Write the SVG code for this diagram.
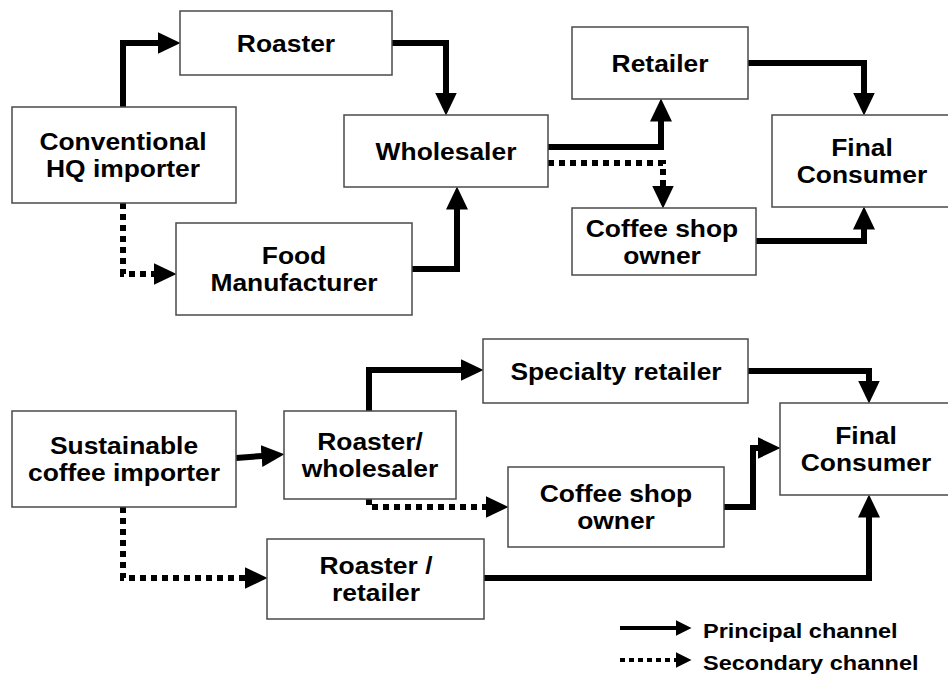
<svg xmlns="http://www.w3.org/2000/svg" width="948" height="674" viewBox="0 0 948 674">
<style>
.box{fill:#fff;stroke:#4a4a4a;stroke-width:1.5}
.lbl{font-family:"Liberation Sans",Arial,Helvetica,sans-serif;font-weight:bold;font-size:24px;fill:#000;text-anchor:middle}
.leg{font-family:"Liberation Sans",Arial,Helvetica,sans-serif;font-weight:bold;font-size:21px;fill:#000;text-anchor:start}
.main{fill:none;stroke:#000;stroke-width:6;marker-end:url(#head)}
.sec{fill:none;stroke:#000;stroke-width:6;stroke-dasharray:6 5;marker-end:url(#head)}
.lmain{fill:none;stroke:#000;stroke-width:4;marker-end:url(#headS)}
.lsec{fill:none;stroke:#000;stroke-width:4;stroke-dasharray:5 4;marker-end:url(#headS)}
</style>
<defs>
<marker id="head" markerUnits="userSpaceOnUse" viewBox="0 -11 23 22" refX="0.5" refY="0" markerWidth="23" markerHeight="22" orient="auto"><path d="M0,-11 L23,0 L0,11 z" fill="#000"/></marker>
<marker id="headS" markerUnits="userSpaceOnUse" viewBox="0 -8 16 16" refX="0.5" refY="0" markerWidth="16" markerHeight="16" orient="auto"><path d="M0,-8 L16,0 L0,8 z" fill="#000"/></marker>
</defs>
<rect width="948" height="674" fill="#fff"/>
<g id="connectors">
<path class="main" d="M123,107 V43 H158"/>
<path class="main" d="M392,43 H446 V93"/>
<path class="sec" d="M123,203 V274 H154"/>
<path class="main" d="M412,269 H457 V209"/>
<path class="main" d="M548,147 H661 V121"/>
<path class="sec" d="M548,163 H663 V186"/>
<path class="main" d="M748,63 H864 V93"/>
<path class="main" d="M756,241 H864 V229"/>
<path class="main" d="M236,458 L262,456"/>
<path class="main" d="M369,411 V370 H461"/>
<path class="sec" d="M369,499 V507 H486"/>
<path class="sec" d="M123,507 V578 H245"/>
<path class="main" d="M748,371 H869 V381"/>
<path class="main" d="M724,507 H753 V448 H758"/>
<path class="main" d="M484,578 H869 V517"/>
</g>
<g id="roaster"><rect class="box" x="180" y="11" width="212" height="64"/><text class="lbl" transform="translate(286,51.6) scale(1.1,1)">Roaster</text></g>
<g id="hq-importer"><rect class="box" x="12" y="107" width="224" height="96"/><text class="lbl" transform="translate(123,150.1) scale(1.1,1)"><tspan x="0">Conventional</tspan><tspan x="0" dy="27">HQ importer</tspan></text></g>
<g id="wholesaler"><rect class="box" x="344" y="115" width="204" height="72"/><text class="lbl" transform="translate(446,159.6) scale(1.1,1)">Wholesaler</text></g>
<g id="food-manufacturer"><rect class="box" x="176" y="223" width="236" height="92"/><text class="lbl" transform="translate(294,264.1) scale(1.1,1)"><tspan x="0">Food</tspan><tspan x="0" dy="27">Manufacturer</tspan></text></g>
<g id="retailer"><rect class="box" x="572" y="27" width="176" height="72"/><text class="lbl" transform="translate(660,71.6) scale(1.1,1)">Retailer</text></g>
<g id="final-consumer-1"><rect class="box" x="772" y="115" width="200" height="92"/><text class="lbl" transform="translate(862,156.1) scale(1.1,1)"><tspan x="0">Final</tspan><tspan x="0" dy="27">Consumer</tspan></text></g>
<g id="coffee-shop-1"><rect class="box" x="572" y="208" width="184" height="67"/><text class="lbl" transform="translate(662,236.6) scale(1.1,1)"><tspan x="0">Coffee shop</tspan><tspan x="0" dy="27">owner</tspan></text></g>
<g id="sustainable-importer"><rect class="box" x="12" y="411" width="224" height="96"/><text class="lbl" transform="translate(124,454.1) scale(1.1,1)"><tspan x="0">Sustainable</tspan><tspan x="0" dy="27">coffee importer</tspan></text></g>
<g id="roaster-wholesaler"><rect class="box" x="284" y="411" width="172" height="88"/><text class="lbl" transform="translate(370,450.1) scale(1.1,1)"><tspan x="0">Roaster/</tspan><tspan x="0" dy="27">wholesaler</tspan></text></g>
<g id="specialty-retailer"><rect class="box" x="483" y="339" width="265" height="64"/><text class="lbl" transform="translate(616,379.6) scale(1.1,1)">Specialty retailer</text></g>
<g id="final-consumer-2"><rect class="box" x="780" y="403" width="200" height="92"/><text class="lbl" transform="translate(866,444.1) scale(1.1,1)"><tspan x="0">Final</tspan><tspan x="0" dy="27">Consumer</tspan></text></g>
<g id="coffee-shop-2"><rect class="box" x="508" y="467" width="216" height="80"/><text class="lbl" transform="translate(616,502.1) scale(1.1,1)"><tspan x="0">Coffee shop</tspan><tspan x="0" dy="27">owner</tspan></text></g>
<g id="roaster-retailer"><rect class="box" x="267" y="539" width="217" height="80"/><text class="lbl" transform="translate(376,574.1) scale(1.1,1)"><tspan x="0">Roaster /</tspan><tspan x="0" dy="27">retailer</tspan></text></g>
<g id="legend">
<path class="lmain" d="M620,628 H676"/>
<path class="lsec" d="M620,660 H676"/>
<text class="leg" transform="translate(703,637.5) scale(1.12,1)">Principal channel</text>
<text class="leg" transform="translate(703,669.5) scale(1.12,1)">Secondary channel</text>
</g>
</svg>
